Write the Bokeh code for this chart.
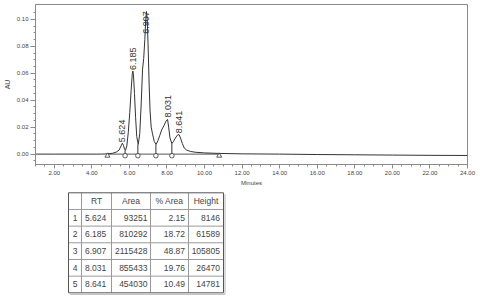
import math
from bokeh.plotting import figure
from bokeh.layouts import column
from bokeh.models import Range1d, FixedTicker, PrintfTickFormatter
from bokeh.core.properties import value
from bokeh.embed import file_html
from bokeh.resources import INLINE

# ---------------- data ----------------
time_min = [1.0, 2.0, 3.0, 4.0, 4.5, 4.85, 5.1, 5.3, 5.45, 5.55, 5.624, 5.68, 5.74, 5.79,
            5.86, 5.94, 6.02, 6.09, 6.15, 6.185, 6.22, 6.27, 6.33, 6.39, 6.47,
            6.55, 6.63, 6.70, 6.76, 6.82, 6.87, 6.907, 6.95, 7.00, 7.05, 7.10, 7.16,
            7.23, 7.32, 7.42, 7.52, 7.62, 7.72, 7.85, 7.95, 8.031, 8.09, 8.16, 8.26,
            8.35, 8.45, 8.55, 8.641, 8.72, 8.82, 8.92, 9.05, 9.25, 9.5, 10.0, 10.8,
            12.0, 14.0, 16.0, 18.0, 20.0, 22.0, 24.0]
signal_au = [0.0, 0.0, 0.0, 0.0, 0.0, 0.0002, 0.0006, 0.0015, 0.003, 0.006, 0.0081, 0.0066, 0.0038, 0.0028,
             0.006, 0.016, 0.031, 0.047, 0.059, 0.0616, 0.058, 0.045, 0.027, 0.013, 0.0072,
             0.015, 0.038, 0.063, 0.071, 0.085, 0.100, 0.1058, 0.100, 0.078, 0.052, 0.032, 0.020,
             0.015, 0.0095, 0.0072, 0.010, 0.014, 0.018, 0.0215, 0.0245, 0.0258, 0.020, 0.012, 0.0078,
             0.0095, 0.012, 0.014, 0.0145, 0.012, 0.0078, 0.0045, 0.003, 0.002, 0.0014, 0.0009, 0.0005,
             0.0002, 0.0, -0.0003, -0.0005, -0.0007, -0.0009, -0.001]

# integration marks
baseline_ends = [4.83, 10.78]            # triangles
valley_times = [5.77, 6.45, 7.41, 8.26]  # circles / drop lines
valley_au = [0.0028, 0.0072, 0.0072, 0.0078]

# peak table
peak_num = [1, 2, 3, 4, 5]
rt = [5.624, 6.185, 6.907, 8.031, 8.641]
area = [93251, 810292, 2115428, 855433, 454030]
pct_area = [2.15, 18.72, 48.87, 19.76, 10.49]
height_uv = [8146, 61589, 105805, 26470, 14781]

x_ticks = [2, 4, 6, 8, 10, 12, 14, 16, 18, 20, 22, 24]
y_ticks = [0.00, 0.02, 0.04, 0.06, 0.08, 0.10]
headers = ["", "RT", "Area", "% Area", "Height"]

FONT = "Liberation Sans"
TXT = "#444444"
GRAY = "#8a8a8a"
W = 481
BL, BR = 35, 14

# ---------------- chromatogram ----------------
XMIN, XMAX = 1.0, 24.0
YMIN, YMAX = -0.0077, 0.111

p = figure(width=W, height=188, output_backend="svg", toolbar_location=None,
           x_range=Range1d(XMIN, XMAX), y_range=Range1d(YMIN, YMAX),
           min_border_left=BL, min_border_right=BR, min_border_top=4, min_border_bottom=24)
p.background_fill_color = "white"
p.border_fill_color = "white"
p.outline_line_color = GRAY
p.outline_line_width = 1
p.grid.visible = False

p.xaxis.ticker = FixedTicker(ticks=x_ticks, minor_ticks=[XMIN + 0.5 * i for i in range(47)])
p.yaxis.ticker = FixedTicker(ticks=y_ticks, minor_ticks=[round(-0.005 + 0.005 * i, 4) for i in range(23)])
p.xaxis.formatter = PrintfTickFormatter(format="%.2f")
p.yaxis.formatter = PrintfTickFormatter(format="%.2f")
for ax in (p.xaxis, p.yaxis):
    ax.axis_line_color = GRAY
    ax.major_tick_line_color = GRAY
    ax.minor_tick_line_color = GRAY
    ax.major_tick_in = 0
    ax.minor_tick_in = 0
    ax.major_label_text_font = FONT
    ax.major_label_text_font_size = "6px"
    ax.major_label_text_color = TXT
    ax.axis_label_text_font = FONT
    ax.axis_label_text_font_style = "normal"
    ax.axis_label_text_color = TXT
p.xaxis.major_tick_out = 4
p.xaxis.minor_tick_out = 2
p.yaxis.major_tick_out = 5
p.yaxis.minor_tick_out = 2
p.xaxis.major_label_standoff = 2
p.yaxis.major_label_standoff = 2
p.xaxis.axis_label = "Minutes"
p.xaxis.axis_label_text_font_size = "6px"
p.xaxis.axis_label_standoff = 2
p.yaxis.axis_label = "AU"
p.yaxis.axis_label_text_font_size = "7px"
p.yaxis.axis_label_standoff = 3

# integration baseline
p.line(baseline_ends, [0.0, 0.0], line_color="#555555", line_width=1)
# trace
p.line(time_min, signal_au, line_color="#333333", line_width=1)

mark_y = -0.0012
p.segment(x0=valley_times, y0=valley_au, x1=valley_times, y1=[mark_y] * len(valley_times),
          line_color="#333333", line_width=1)
p.scatter(baseline_ends, [mark_y] * 2, marker="triangle", size=5,
          fill_color="white", line_color="#333333", line_width=0.8)
p.scatter(valley_times, [mark_y] * len(valley_times), marker="circle", size=4.5,
          fill_color="white", line_color="#333333", line_width=0.8)

# peak labels (rotated), clamped so they fit under the top of the frame
label_len = 0.0225
peak_au = [h / 1e6 for h in height_uv]
label_y = [min(h, YMAX - label_len) for h in peak_au]
p.text(x=rt, y=label_y, text=["%.3f" % r for r in rt], angle=math.pi / 2,
       text_align="left", text_baseline="middle", y_offset=-1,
       text_font=value(FONT), text_font_size="9px", text_color="#333333")

# ---------------- peak table (page-pixel coordinates) ----------------
t = figure(width=W, height=110, output_backend="svg", toolbar_location=None,
           x_range=Range1d(BL, W - BR), y_range=Range1d(110, 0),
           min_border_left=BL, min_border_right=BR, min_border_top=0, min_border_bottom=0)
t.axis.visible = False
t.grid.visible = False
t.outline_line_color = None
t.background_fill_color = "white"
t.border_fill_color = "white"

col_edges = [68, 81, 111, 150, 188, 223]
row_top, row_h = 4.3, 16.67
n_rows = len(peak_num) + 1
row_edges = [row_top + i * row_h for i in range(n_rows + 1)]

# inner lines
t.segment(x0=col_edges[1:-1], y0=[row_edges[0]] * 4, x1=col_edges[1:-1], y1=[row_edges[-1]] * 4,
          line_color="#9a9a9a", line_width=1)
t.segment(x0=[col_edges[0]] * (n_rows - 1), y0=row_edges[1:-1], x1=[col_edges[-1]] * (n_rows - 1),
          y1=row_edges[1:-1], line_color="#9a9a9a", line_width=1)
# outer border + light shadow
bx = [col_edges[0], col_edges[-1], col_edges[-1], col_edges[0], col_edges[0]]
by = [row_edges[0], row_edges[0], row_edges[-1], row_edges[-1], row_edges[0]]
t.line(bx, by, line_color="#555555", line_width=1)
t.line([col_edges[-1] + 1.5, col_edges[-1] + 1.5, col_edges[0] + 1.5],
       [row_edges[0] + 1.5, row_edges[-1] + 1.5, row_edges[-1] + 1.5],
       line_color="#b8b8b8", line_width=1)

centers = [(col_edges[i] + col_edges[i + 1]) / 2 for i in range(5)]
row_mid = [(row_edges[i] + row_edges[i + 1]) / 2 for i in range(n_rows)]
FS = "8.5px"

t.text(x=centers[1:], y=[row_mid[0]] * 4, text=headers[1:], text_align="center",
       text_baseline="middle", text_font=value(FONT), text_font_size=FS, text_color=TXT)

body_y = row_mid[1:]
t.text(x=[centers[0]] * 5, y=body_y, text=[str(n) for n in peak_num], text_align="center",
       text_baseline="middle", text_font=value(FONT), text_font_size=FS, text_color=TXT)
t.text(x=[col_edges[1] + 3.5] * 5, y=body_y, text=["%.3f" % r for r in rt], text_align="left",
       text_baseline="middle", text_font=value(FONT), text_font_size=FS, text_color=TXT)
t.text(x=[col_edges[3] - 3] * 5, y=body_y, text=[str(a) for a in area], text_align="right",
       text_baseline="middle", text_font=value(FONT), text_font_size=FS, text_color=TXT)
t.text(x=[col_edges[4] - 3.5] * 5, y=body_y, text=["%.2f" % v for v in pct_area], text_align="right",
       text_baseline="middle", text_font=value(FONT), text_font_size=FS, text_color=TXT)
t.text(x=[col_edges[5] - 3.5] * 5, y=body_y, text=[str(h) for h in height_uv], text_align="right",
       text_baseline="middle", text_font=value(FONT), text_font_size=FS, text_color=TXT)

layout = column(p, t, spacing=0)
open("out.html", "w").write(file_html(layout, INLINE))
